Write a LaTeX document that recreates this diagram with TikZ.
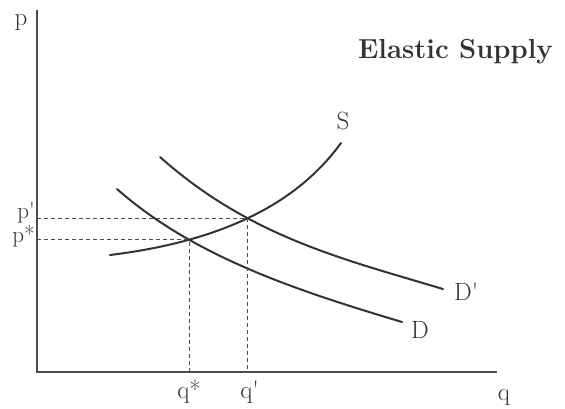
\documentclass[tikz,border=0pt]{standalone}
\usetikzlibrary{intersections}
\begin{document}
\begin{tikzpicture}[x=1pt,y=-1pt,
  axis/.style={draw=black!70,line width=1.3pt},
  curve/.style={draw=black!80,line width=2pt,line cap=round},
  guide/.style={draw=black!70,line width=0.9pt,dash pattern=on 4pt off 3pt},
  lbl/.style={text=black!80,font=\fontsize{25}{28}\selectfont,inner sep=0pt},
  plbl/.style={lbl,font=\fontsize{23}{26}\selectfont},
  title/.style={text=black!80,font=\fontsize{27.5}{30}\selectfont\bfseries,inner sep=0pt}]
\useasboundingbox (0,0) rectangle (565,408);
% axes
\coordinate (o) at (37,372);
\coordinate (ytop) at (37,10);
\coordinate (xend) at (497,372);
\draw[axis] (ytop) -- (o) -- (xend);
% supply
\draw[curve,name path=S] (110,255) .. controls (232,240) and (301,198) .. (341,143);
% demand D
\draw[curve,name path=D] (117,189) .. controls (195,258) and (302,292) .. (402,322);
% demand D'
\draw[curve,name path=Dp] (160,157) .. controls (250,237) and (343,259) .. (443,289);
% equilibrium points
\path[name intersections={of=S and D,by=e1}];
\path[name intersections={of=S and Dp,by=e2}];
\coordinate (pst) at (o |- e1);
\coordinate (ppr) at (o |- e2);
\coordinate (qst) at (o -| e1);
\coordinate (qpr) at (o -| e2);
\draw[guide] (pst) -- (e1) -- (qst);
\draw[guide] (ppr) -- (e2) -- (qpr);
% labels
\node[lbl,anchor=base] (lp) at (21,25) {p};
\node[lbl,anchor=base] (lq) at (504,400) {q};
\node[plbl,anchor=base east] (lpp) at (35,218) {p\textquotesingle};
\node[plbl,anchor=base east] (lps) at (35,242) {p*};
\node[lbl,anchor=base] (lqs) at (e1 |- 0,398) {q*};
\node[lbl,anchor=base] (lqp) at ([xshift=2pt]e2 |- 0,398) {q\textquotesingle};
\node[lbl,anchor=base] (lS) at (343,129) {S};
\node[lbl,anchor=base west] (lD) at (411,338) {D};
\node[lbl,anchor=base west] (lDp) at (454,300) {D\textquotesingle};
\node[title,anchor=base west] (ttl) at (358,58) {Elastic Supply};
\end{tikzpicture}
\end{document}
